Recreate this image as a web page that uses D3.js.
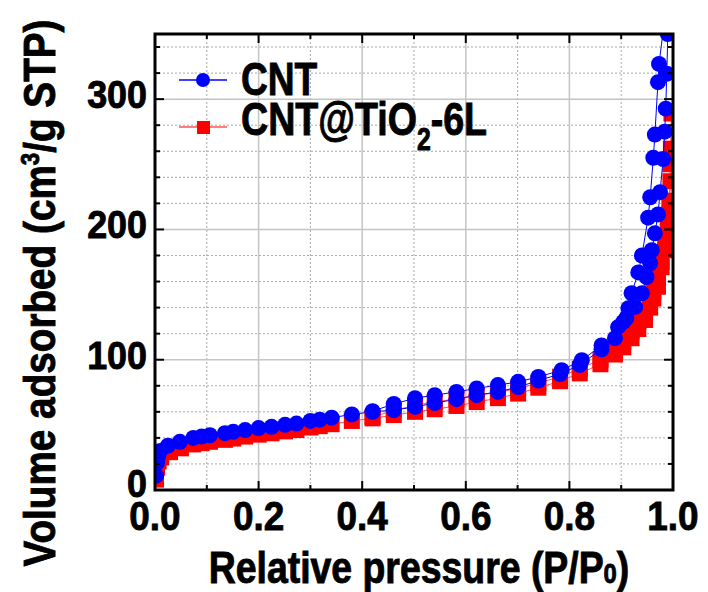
<!DOCTYPE html>
<html>
<head>
<meta charset="utf-8">
<script src="https://cdn.jsdelivr.net/npm/d3@7"></script>
<style>
  body { margin: 0; background: #fff; }
  text { font-family: "Liberation Sans", Arial, sans-serif; font-weight: bold; stroke: #000; stroke-width: 0.9px; }
</style>
</head>
<body>
<svg id="drawing_region"></svg>
<script>
// CNT isotherm (adsorption then desorption)
const cntAdsP = [0.002, 0.004, 0.006, 0.010, 0.025, 0.048, 0.074, 0.090, 0.106, 0.135, 0.151, 0.174, 0.200, 0.225, 0.251, 0.273, 0.300, 0.318, 0.341, 0.380, 0.420, 0.461, 0.502, 0.540, 0.582, 0.621, 0.662, 0.701, 0.740, 0.782, 0.820, 0.862, 0.888, 0.904, 0.927, 0.940, 0.949, 0.956, 0.959, 0.965, 0.971, 0.975, 0.981, 0.984, 0.986, 0.988, 0.990, 0.993];
const cntAdsV = [11, 21, 26, 30, 34, 37, 40, 41, 42, 43.6, 44.7, 46, 47.5, 48.5, 50, 51, 53, 54, 55.5, 58, 60, 61.3, 63.8, 66.7, 69.7, 72.8, 75.3, 79, 84, 89, 96, 108, 116.5, 129, 140.5, 151, 163.5, 174, 184, 197, 211.5, 228.6, 254, 275, 292.7, 319.5, 350, 390];
const cntDesP = [0.973, 0.971, 0.965, 0.962, 0.956, 0.952, 0.940, 0.933, 0.920, 0.914, 0.910, 0.894, 0.862, 0.824, 0.785, 0.740, 0.701, 0.662, 0.621, 0.582, 0.540, 0.502, 0.461, 0.420];
const cntDesV = [327, 313, 272.8, 255, 224.7, 209, 180, 167, 151, 139.5, 132, 125, 111, 99.6, 92, 86.8, 83, 80.5, 78, 75.3, 72.8, 70.5, 66, 60.5];

// CNT@TiO2-6L isotherm
const tioAdsP = [0.002, 0.004, 0.007, 0.012, 0.029, 0.050, 0.074, 0.090, 0.106, 0.135, 0.151, 0.174, 0.200, 0.225, 0.251, 0.273, 0.300, 0.318, 0.341, 0.380, 0.420, 0.461, 0.502, 0.540, 0.582, 0.621, 0.662, 0.701, 0.740, 0.782, 0.820, 0.860, 0.888, 0.904, 0.920, 0.933, 0.946, 0.956, 0.962, 0.971, 0.978, 0.985, 0.990, 0.993, 0.995, 0.996, 0.997];
const tioAdsV = [8, 17, 22, 25, 29, 32, 35, 36, 37, 38.5, 39.5, 41, 42.5, 43.5, 45, 46, 48, 49, 50.5, 53, 55, 57.5, 60, 62, 64.5, 67.5, 70.5, 74, 78.5, 83.5, 89.5, 96.5, 104, 109.5, 116.5, 123.5, 130.5, 140, 147, 156, 171, 184, 199, 212, 237, 262, 289];
const tioDesP = [0.995, 0.993, 0.990, 0.985, 0.978, 0.971, 0.962, 0.956, 0.946, 0.933, 0.920, 0.904, 0.888, 0.860, 0.820, 0.782, 0.740, 0.701, 0.662, 0.621, 0.582, 0.540, 0.502, 0.461, 0.420];
const tioDesV = [250, 222, 206, 190, 175, 163, 152, 146, 137, 129, 122, 114, 108, 100, 93, 87, 82, 78, 75, 72.5, 70, 67.5, 65, 61, 56];

const xTicks = [0, 0.2, 0.4, 0.6, 0.8, 1.0];
const yTicks = [0, 100, 200, 300];

const config = {
    width: 708, height: 592,
    margin: {top: 34, right: 35, bottom: 102, left: 155}
};

const svg = d3.select('#drawing_region')
    .attr('width', config.width)
    .attr('height', config.height);

const w = config.width - config.margin.left - config.margin.right;
const h = config.height - config.margin.top - config.margin.bottom;

const x = d3.scaleLinear().domain([0, 1]).range([0, w]);
const y = d3.scaleLinear().domain([0, 350]).range([h, 0]);

const chart = svg.append('g')
    .attr('transform', `translate(${config.margin.left}, ${config.margin.top})`);

chart.append('clipPath').attr('id', 'clip')
    .append('rect').attr('width', w).attr('height', h);

// grid
const minorX = d3.range(0.1, 1, 0.2);
const minorY = d3.range(20, 350, 20).filter(v => v % 100 !== 0);
chart.selectAll('.gxm').data(minorX).enter().append('line')
    .attr('x1', d => x(d)).attr('x2', d => x(d)).attr('y1', 0).attr('y2', h)
    .attr('stroke', '#a8a8a8').attr('stroke-width', 1).attr('stroke-dasharray', '2,2');
chart.selectAll('.gym').data(minorY).enter().append('line')
    .attr('y1', d => y(d)).attr('y2', d => y(d)).attr('x1', 0).attr('x2', w)
    .attr('stroke', '#a8a8a8').attr('stroke-width', 1).attr('stroke-dasharray', '2,2');
chart.selectAll('.gx').data(xTicks.slice(1, -1)).enter().append('line')
    .attr('x1', d => x(d)).attr('x2', d => x(d)).attr('y1', 0).attr('y2', h)
    .attr('stroke', '#c4c4c4').attr('stroke-width', 1.5);
chart.selectAll('.gy').data(yTicks.slice(1)).enter().append('line')
    .attr('y1', d => y(d)).attr('y2', d => y(d)).attr('x1', 0).attr('x2', w)
    .attr('stroke', '#c4c4c4').attr('stroke-width', 1.5);

// data
const plot = chart.append('g').attr('clip-path', 'url(#clip)');
const pts = (P, V) => P.map((p, i) => [p, V[i]]);
const line = d3.line().x(d => x(d[0])).y(d => y(d[1]));

const tio = pts(tioAdsP, tioAdsV).concat(pts(tioDesP, tioDesV));
const cnt = pts(cntAdsP, cntAdsV).concat(pts(cntDesP, cntDesV));

plot.append('path').datum(tio).attr('d', line)
    .attr('fill', 'none').attr('stroke', '#ff5555').attr('stroke-width', 1);
plot.selectAll('.sq').data(tio).enter().append('rect')
    .attr('x', d => x(d[0]) - 8).attr('y', d => y(d[1]) - 8)
    .attr('width', 16).attr('height', 16).attr('fill', '#ff0000');

plot.append('path').datum(cnt).attr('d', line)
    .attr('fill', 'none').attr('stroke', '#0000ff').attr('stroke-width', 1);
plot.selectAll('.ci').data(cnt).enter().append('circle')
    .attr('cx', d => x(d[0])).attr('cy', d => y(d[1]))
    .attr('r', 8).attr('fill', '#0000ff');

// ticks, inward on all four sides
const isMajX = d => Math.abs(d * 5 - Math.round(d * 5)) < 1e-6;
const isMajY = d => d % 100 === 0;

function ticks(g, vals, isMaj, orient) {
    g.selectAll('line.t' + orient).data(vals).enter().append('line')
        .attr('stroke', '#000').attr('stroke-width', 2)
        .each(function (d) {
            const len = isMaj(d) ? 9 : 5;
            const s = d3.select(this);
            if (orient === 'b') s.attr('x1', x(d)).attr('x2', x(d)).attr('y1', h).attr('y2', h - len);
            if (orient === 't') s.attr('x1', x(d)).attr('x2', x(d)).attr('y1', 0).attr('y2', len);
            if (orient === 'l') s.attr('y1', y(d)).attr('y2', y(d)).attr('x1', 0).attr('x2', len);
            if (orient === 'r') s.attr('y1', y(d)).attr('y2', y(d)).attr('x1', w).attr('x2', w - len);
        });
}
const tickG = chart.append('g');
const xAll = d3.range(0, 11).map(i => i / 10);
const yAll = d3.range(0, 351, 20);
ticks(tickG, xAll, isMajX, 'b');
ticks(tickG, xAll, isMajX, 't');
ticks(tickG, yAll, isMajY, 'l');
ticks(tickG, yAll, isMajY, 'r');

chart.append('rect').attr('width', w).attr('height', h)
    .attr('fill', 'none').attr('stroke', '#000').attr('stroke-width', 3);

// tick labels
chart.selectAll('.xl').data(xTicks).enter().append('text')
    .attr('transform', d => `translate(${x(d)}, ${h + 40}) scale(0.9,1)`)
    .attr('text-anchor', 'middle').attr('font-size', 41)
    .text(d => d.toFixed(1));
chart.selectAll('.yl').data(yTicks).enter().append('text')
    .attr('transform', d => `translate(-8, ${y(d) + (d === 0 ? 7 : 9)}) scale(0.92,1)`)
    .attr('text-anchor', 'end').attr('font-size', 39)
    .text(d => d);

// axis titles
const xt = svg.append('text')
    .attr('transform', 'translate(419, 583) scale(0.85,1)')
    .attr('text-anchor', 'middle').attr('font-size', 44);
xt.append('tspan').text('Relative pressure (P/P');
xt.append('tspan').attr('font-size', 28).text('0');
xt.append('tspan').text(')');

const yt = svg.append('text')
    .attr('transform', 'translate(55, 293) rotate(-90) scale(0.86,1)')
    .attr('text-anchor', 'middle').attr('font-size', 45);
yt.append('tspan').text('Volume adsorbed (cm');
yt.append('tspan').attr('font-size', 26).attr('dy', -16).text('3');
yt.append('tspan').attr('dy', 16).text('/g STP)');

// legend
const lg = svg.append('g');
lg.append('line').attr('x1', 179).attr('x2', 227).attr('y1', 80).attr('y2', 80)
    .attr('stroke', '#0000ff').attr('stroke-width', 1.5);
lg.append('circle').attr('cx', 203).attr('cy', 80).attr('r', 7).attr('fill', '#0000ff');
lg.append('line').attr('x1', 179).attr('x2', 227).attr('y1', 127).attr('y2', 127)
    .attr('stroke', '#ff5555').attr('stroke-width', 1.5);
lg.append('rect').attr('x', 197).attr('y', 121).attr('width', 13).attr('height', 13).attr('fill', '#ff0000');

lg.append('text').attr('transform', 'translate(241, 95) scale(0.79,1)')
    .attr('font-size', 47).text('CNT');
const l2 = lg.append('text').attr('transform', 'translate(241, 135) scale(0.8,1)')
    .attr('font-size', 47);
l2.append('tspan').text('CNT@TiO');
l2.append('tspan').attr('font-size', 31).attr('dy', 15).text('2');
l2.append('tspan').attr('dy', -15).text('-6L');
</script>
</body>
</html>
